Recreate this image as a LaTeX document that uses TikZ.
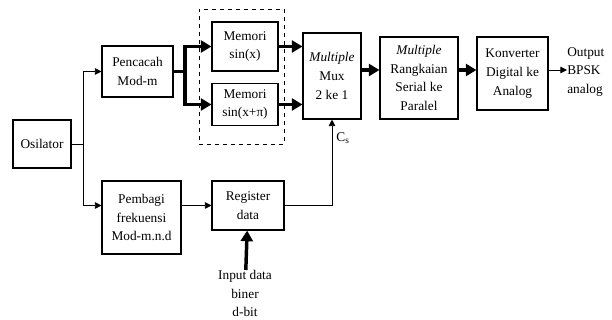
\documentclass[tikz,border=0pt]{standalone}
\usepackage{fontspec}
\setmainfont{Liberation Serif}
\usetikzlibrary{arrows.meta}

\begin{document}
\begin{tikzpicture}[x=0.75pt,y=-0.75pt,
  font=\fontsize{10}{14}\selectfont,
  blok/.style={draw, line width=0.8pt, align=center, inner sep=0pt},
  tipis/.style={line width=0.7pt, -{Triangle[length=5pt,width=5pt]}},
  tebal/.style={line width=2.6pt, -{Triangle[length=8pt,width=9pt]}}]
\useasboundingbox (0,0) rectangle (612,320);

% blok-blok
\node[blok, minimum width=43.5pt, minimum height=36pt] (osc) at (42,144) {Osilator};
\node[blok, minimum width=53.25pt, minimum height=38.25pt] (cnt) at (137.5,71.5) {Pencacah\\Mod-m};
\node[draw, dashed, line width=0.7pt, minimum width=63.75pt, minimum height=101.25pt] (mem) at (241.5,76.5) {};
\node[blok, minimum width=49.5pt, minimum height=36.75pt] (memA) at (245,46.5) {Memori\\sin(x)};
\node[blok, minimum width=49.5pt, minimum height=31.5pt] (memB) at (245,104.5) {Memori\\sin(x+π)};
\node[blok, minimum width=43.5pt, minimum height=64.5pt] (mux) at (332,76) {\textit{Multiple}\\Mux\\2 ke 1};
\node[blok, minimum width=58.5pt, minimum height=61.5pt] (ser) at (419,78) {\textit{Multiple}\\Rangkaian\\Serial ke\\Paralel};
\node[blok, minimum width=53.25pt, minimum height=54.75pt] (dac) at (512.5,73.5) {Konverter\\Digital ke\\Analog};
\node[align=left, anchor=west, inner sep=0pt] (out) at (567,72) {Output\\BPSK\\analog};
\node[blok, minimum width=59.25pt, minimum height=54.75pt] (div) at (141.5,217.5) {Pembagi\\frekuensi\\Mod-m.n.d};
\node[blok, minimum width=54pt, minimum height=36.75pt] (reg) at (248,205.5) {Register\\data};
\node[align=center, anchor=north, inner sep=0pt] (inp) at (245,270) {Input data\\biner\\d-bit};

% sambungan
\coordinate (j1) at (83,144);
\coordinate (j2) at (185,71.5);
\draw[line width=0.7pt] (osc) -- (j1);
\draw[tipis] (j1) |- (cnt);
\draw[tipis] (j1) |- (div.west |- reg.west);
\draw[tipis] (div.east |- reg.west) -- (reg);
\draw[line width=2.6pt] (cnt) -- (j2);
\draw[tebal] (j2) |- (memA);
\draw[tebal] (j2) |- (memB);
\draw[tebal] (memA) -- (memA -| mux.west);
\draw[tebal] (memB) -- (memB -| mux.west);
\draw[tebal] (mux.east |- 0,70) -- (ser.west |- 0,70);
\draw[tebal] (ser.east |- 0,70) -- (dac.west |- 0,70);
\draw[tipis] (dac.east |- 0,70) -- (out.west |- 0,70);
\draw[tipis] (reg) -| (mux) node[pos=0.89, right, inner sep=3pt] {C\textsubscript{s}};
\draw[tebal] (inp) -- (reg);

\end{tikzpicture}
\end{document}
